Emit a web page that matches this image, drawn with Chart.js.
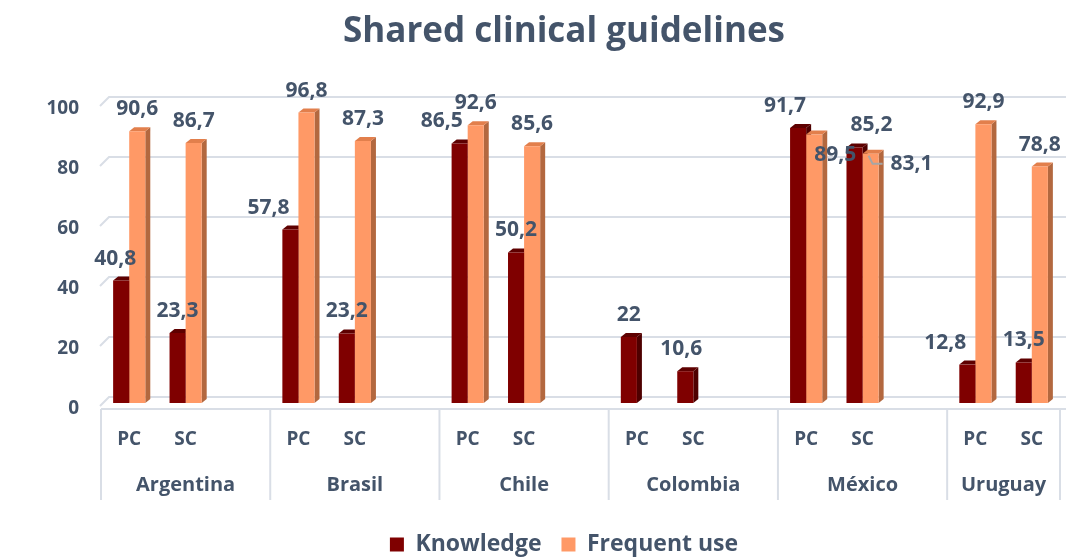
<!DOCTYPE html>
<html>
<head>
<meta charset="utf-8">
<script src="https://cdn.jsdelivr.net/npm/chart.js@4"></script>
<style>
  body { margin: 0; background: #fff; }
  #wrap { width: 1077px; height: 559px; }
</style>
</head>
<body>
<div id="wrap"><canvas id="guidelinesChart"></canvas></div>
<script>
const countries = ["Argentina", "Brasil", "Chile", "Colombia", "México", "Uruguay"];
const levels = ["PC", "SC"];
// values in order: country by country, PC then SC
const knowledge = [40.8, 23.3, 57.8, 23.2, 86.5, 50.2, 22, 10.6, 91.7, 85.2, 12.8, 13.5];
const frequentUse = [90.6, 86.7, 96.8, 87.3, 92.6, 85.6, null, null, 89.5, 83.1, 92.9, 78.8];
const yTicks = [0, 20, 40, 60, 80, 100];

// label nudges (px) so labels sit where the original put them
const knowNudge = [[-6, 0], [0, 0], [-22, 0], [0, 0], [-18, 0], [0, 0], [0, 0], [-4, 0], [-13, 0], [17, 0], [-22, 0], [0, 0]];
const freqNudge = [[0, 0], [0, 0], [0, 0], [0, 0], [0, 0], [0, 0], [0, 0], [0, 0], [21, 43], [41, 32], [0, 0], [0, 0]];

const textColor = "#44546A";
const gridColor = "#D9DEE6";
const font = "'Open Sans'";

// expand into slots: PC, SC, spacer (no spacer after the last country)
const labels = [], kData = [], fData = [], slotIndex = [];
countries.forEach((c, i) => {
  levels.forEach((l, j) => {
    labels.push(l);
    kData.push(knowledge[i * 2 + j]);
    fData.push(frequentUse[i * 2 + j]);
    slotIndex.push(i * 2 + j);
  });
  if (i < countries.length - 1) {
    labels.push("");
    kData.push(null);
    fData.push(null);
    slotIndex.push(-1);
  }
});

const fmt = v => String(v).replace(".", ",");

const depth = 5, rise = 4;
const faces = [
  { side: "#4E0000", top: "#5E0000" },
  { side: "#B3683F", top: "#E27F4C" }
];

const bars3d = {
  id: "bars3d",
  beforeDatasetsDraw(chart) {
    const ctx = chart.ctx;
    const area = chart.chartArea;
    const yScale = chart.scales.y;
    ctx.save();
    // back-wall gridlines and value labels
    ctx.strokeStyle = gridColor;
    ctx.lineWidth = 2;
    ctx.font = "bold 19px " + font;
    ctx.fillStyle = textColor;
    ctx.textAlign = "right";
    ctx.textBaseline = "middle";
    yTicks.forEach(v => {
      const y = yScale.getPixelForValue(v);
      ctx.beginPath();
      ctx.moveTo(area.left - 1, y + 3);
      ctx.lineTo(area.left + 8, y - 6);
      ctx.lineTo(area.right + 6, y - 6);
      ctx.stroke();
      ctx.fillText(String(v), area.left - 22, y + 6);
    });
    // side and top faces
    chart.data.datasets.forEach((ds, di) => {
      const meta = chart.getDatasetMeta(di);
      meta.data.forEach((bar, k) => {
        if (ds.data[k] == null) return;
        const p = bar.getProps(["x", "y", "base", "width"], true);
        const l = p.x - p.width / 2, r = p.x + p.width / 2;
        ctx.fillStyle = faces[di].side;
        ctx.beginPath();
        ctx.moveTo(r, p.y);
        ctx.lineTo(r + depth, p.y - rise);
        ctx.lineTo(r + depth, p.base - rise);
        ctx.lineTo(r, p.base);
        ctx.closePath();
        ctx.fill();
        ctx.fillStyle = faces[di].top;
        ctx.beginPath();
        ctx.moveTo(l, p.y);
        ctx.lineTo(l + depth, p.y - rise);
        ctx.lineTo(r + depth, p.y - rise);
        ctx.lineTo(r, p.y);
        ctx.closePath();
        ctx.fill();
      });
    });
    ctx.restore();
  },
  afterDatasetsDraw(chart) {
    const ctx = chart.ctx;
    ctx.save();
    ctx.font = "bold 21px " + font;
    ctx.fillStyle = textColor;
    ctx.textAlign = "center";
    ctx.textBaseline = "middle";
    chart.data.datasets.forEach((ds, di) => {
      const meta = chart.getDatasetMeta(di);
      meta.data.forEach((bar, k) => {
        const v = ds.data[k];
        if (v == null) return;
        const idx = slotIndex[k];
        const nudge = (di === 0 ? knowNudge : freqNudge)[idx];
        const x = bar.x + nudge[0];
        const y = bar.y - 22 + nudge[1];
        ctx.fillText(fmt(v), x, y);
        if (di === 1 && idx === 9) {
          // leader line
          ctx.strokeStyle = "#A6A6A6";
          ctx.lineWidth = 2;
          ctx.beginPath();
          ctx.moveTo(bar.x - 2, bar.y + 2);
          ctx.lineTo(bar.x + 2, bar.y + 10);
          ctx.lineTo(bar.x + 12, bar.y + 10);
          ctx.stroke();
        }
      });
    });
    ctx.restore();
  },
  afterDraw(chart) {
    const ctx = chart.ctx;
    const area = chart.chartArea;
    const xs = chart.scales.x;
    const slot = (xs.getPixelForValue(1) - xs.getPixelForValue(0));
    const top = area.bottom + 6, bottom = area.bottom + 97;
    ctx.save();
    ctx.strokeStyle = gridColor;
    ctx.lineWidth = 2;
    ctx.beginPath();
    ctx.moveTo(area.left, top);
    ctx.lineTo(area.right + 6, top);
    ctx.stroke();
    ctx.font = "bold 20px " + font;
    ctx.fillStyle = textColor;
    ctx.textAlign = "center";
    ctx.textBaseline = "middle";
    countries.forEach((c, i) => {
      const start = xs.getPixelForValue(i * 3) - slot / 2;
      const end = i < countries.length - 1 ? start + slot * 3 : area.right;
      ctx.beginPath();
      ctx.moveTo(start, top);
      ctx.lineTo(start, bottom);
      ctx.stroke();
      if (i === countries.length - 1) {
        ctx.beginPath();
        ctx.moveTo(end, top);
        ctx.lineTo(end, bottom);
        ctx.stroke();
      }
      ctx.fillText(c, (start + end) / 2, area.bottom + 82);
    });
    ctx.restore();
  }
};

new Chart(document.getElementById("guidelinesChart"), {
  type: "bar",
  data: {
    labels: labels,
    datasets: [
      { label: "Knowledge", data: kData, backgroundColor: "#7F0000" },
      { label: "Frequent use", data: fData, backgroundColor: "#FF9966" }
    ]
  },
  options: {
    responsive: true,
    maintainAspectRatio: false,
    animation: false,
    layout: { padding: { left: 68, right: 17, top: 0, bottom: -7 } },
    datasets: { bar: { categoryPercentage: 0.57, barPercentage: 1.0 } },
    plugins: {
      title: {
        display: true,
        text: "Shared clinical guidelines",
        color: textColor,
        font: { family: font, size: 35, weight: "bold" },
        padding: { top: 11, bottom: 50 }
      },
      legend: {
        position: "bottom",
        labels: {
          color: textColor,
          font: { family: font, size: 23, weight: "bold" },
          boxWidth: 14,
          boxHeight: 14,
          padding: 20
        }
      },
      tooltip: { enabled: false }
    },
    scales: {
      x: {
        grid: { display: false },
        border: { display: false },
        ticks: {
          color: textColor,
          font: { family: font, size: 19, weight: "bold" },
          padding: 17,
          maxRotation: 0,
          autoSkip: false
        },
        afterFit: s => { s.height = 110; }
      },
      y: {
        min: 0,
        max: 100,
        grid: { display: false },
        border: { display: false },
        ticks: { display: false, stepSize: 20 },
        afterFit: s => { s.width = 33; }
      }
    }
  },
  plugins: [bars3d]
});
</script>
</body>
</html>
